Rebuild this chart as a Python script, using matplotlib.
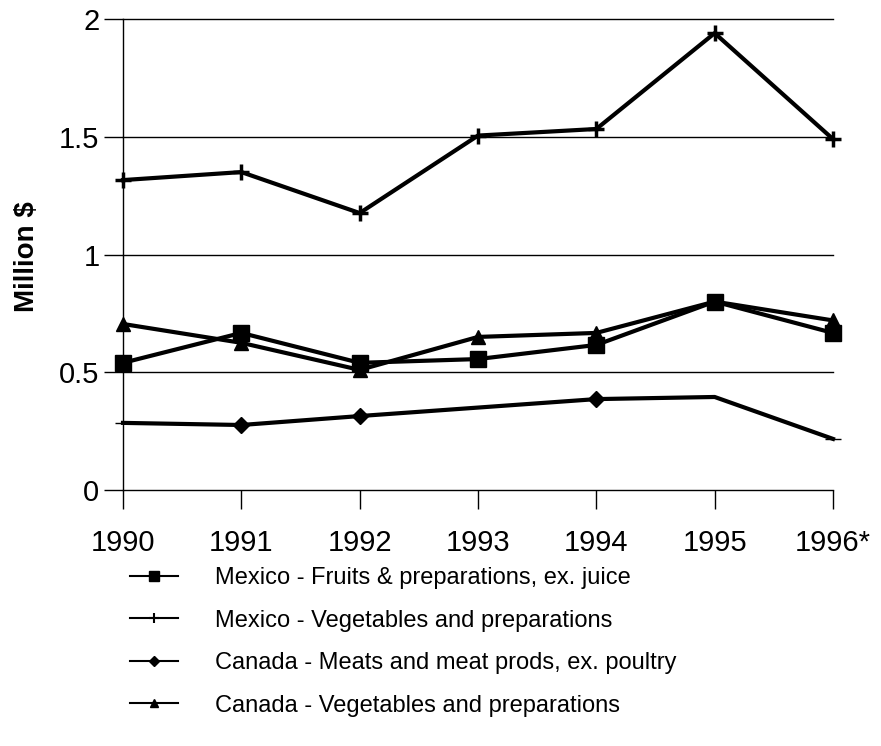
import matplotlib
matplotlib.use("Agg")
import matplotlib.pyplot as plt
from matplotlib.lines import Line2D
import numpy as np

plt.rcParams['font.family'] = ['Liberation Sans', 'DejaVu Sans']

years = ["1990", "1991", "1992", "1993", "1994", "1995", "1996*"]
mex_fruits = [0.54, 0.667, 0.54, 0.556, 0.616, 0.80, 0.667]
mex_veg = [1.316, 1.35, 1.176, 1.505, 1.533, 1.94, 1.49]
can_meat = [0.285, 0.276, 0.314, 0.35, 0.386, 0.395, 0.217]
can_veg = [0.705, 0.625, 0.51, 0.65, 0.667, 0.80, 0.72]
labels = ["Mexico - Fruits & preparations, ex. juice",
          "Mexico - Vegetables and preparations",
          "Canada - Meats and meat prods, ex. poultry",
          "Canada - Vegetables and preparations"]
yticks = [0, 0.5, 1, 1.5, 2]
ytick_labels = ["0", "0.5", "1", "1.5", "2"]

fig = plt.figure(figsize=(8.81, 7.46), dpi=100)
ax = fig.add_axes([123/881, 1-490/746, (833-123)/881, (490-19)/746])

x = np.arange(len(years))
ax.set_xlim(0, len(years)-1)
ax.set_ylim(0, 2)

for v in yticks[1:]:
    ax.axhline(v, color='black', lw=1, clip_on=False, zorder=1)

lw = 3
ax.plot(x, mex_veg, color='black', lw=lw, marker='+', ms=12, mew=2.5, clip_on=False, zorder=3)
ax.plot(x, can_meat, color='black', lw=lw, marker='D', ms=8, markevery=[1, 2, 4], clip_on=False, zorder=3)
ax.plot(x[[0, 6]], np.array(can_meat)[[0, 6]], ls='none', marker='_', ms=12, mew=1, color='black', clip_on=False, zorder=3)
ax.plot(x, can_veg, color='black', lw=lw, marker='^', ms=10, clip_on=False, zorder=3)
ax.plot(x, mex_fruits, color='black', lw=lw, marker='s', ms=11, clip_on=False, zorder=3)

ax.set_xticks(x)
ax.set_xticklabels(years, fontsize=21)
ax.set_yticks(yticks)
ax.set_yticklabels(ytick_labels, fontsize=21)
ax.tick_params(axis='both', direction='out', length=14, width=1, color='black')
ax.tick_params(axis='x', pad=14)
ax.tick_params(axis='y', pad=3)
for s in ['top', 'right']:
    ax.spines[s].set_visible(False)
for s in ['left', 'bottom']:
    ax.spines[s].set_linewidth(1)
    ax.spines[s].set_color('black')

fig.text(27/881, 1-257/746, "Million $", rotation=90, fontsize=20, fontweight='bold',
         ha='center', va='center')

handles = [
    Line2D([], [], color='black', lw=1.5, marker='s', ms=7),
    Line2D([], [], color='black', lw=1.5, marker='+', ms=7, mew=1.5),
    Line2D([], [], color='black', lw=1.5, marker='D', ms=5),
    Line2D([], [], color='black', lw=1.5, marker='^', ms=6),
]
fig.legend(handles, labels, loc='upper left', bbox_to_anchor=(130/881, 1-567/746),
           frameon=False, fontsize=17, handlelength=2.05, handletextpad=1.57,
           labelspacing=0.87, borderaxespad=0, borderpad=0)

fig.savefig("out.png", dpi=100)
